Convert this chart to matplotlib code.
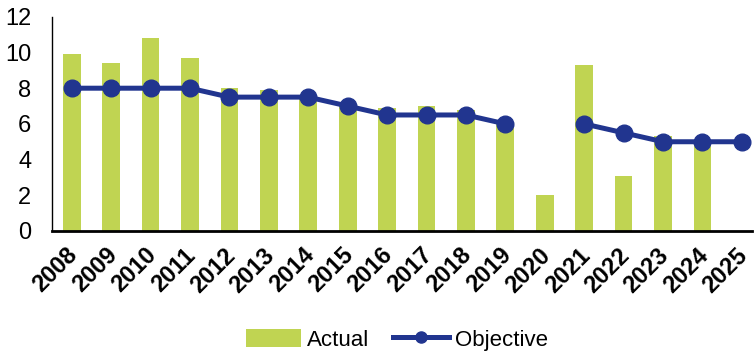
import matplotlib
matplotlib.use("Agg")
import matplotlib.pyplot as plt
import matplotlib.transforms as mtransforms
from matplotlib.lines import Line2D
from matplotlib.patches import Patch
import numpy as np

years = ["2008", "2009", "2010", "2011", "2012", "2013", "2014", "2015", "2016",
         "2017", "2018", "2019", "2020", "2021", "2022", "2023", "2024", "2025"]
actual = [9.9, 9.4, 10.8, 9.7, 8.0, 7.9, 7.6, 7.0, 6.9, 7.0, 6.8, 6.1, 2.0, 9.3, 3.1, 5.3, 5.1, np.nan]
objective = [8.0, 8.0, 8.0, 8.0, 7.5, 7.5, 7.5, 7.0, 6.5, 6.5, 6.5, 6.0, np.nan, 6.0, 5.5, 5.0, 5.0, 5.0]
yticks = [0, 2, 4, 6, 8, 10, 12]

plt.rcParams['font.family'] = ['Liberation Sans', 'DejaVu Sans']

fig = plt.figure(figsize=(7.54, 3.54), dpi=100)
ax = fig.add_axes([0.069, 0.3475, 0.928, 0.605])

x = np.arange(len(years))
green = "#C0D452"
navy = "#21358F"
ax.bar(x, actual, width=0.45, color=green, zorder=2)
ax.plot(x, objective, color=navy, lw=3.6, marker="o", markersize=12, zorder=3)

ax.set_ylim(0, 12)
ax.set_xlim(-0.5, 17.25)
ax.set_yticks(yticks)
ax.set_yticklabels([str(t) for t in yticks], fontsize=17)
ax.set_xticks(x)
ax.set_xticklabels(years, rotation=45, ha="right", va="top", rotation_mode="anchor",
                   fontsize=17, fontweight="bold")
ax.tick_params(axis="both", length=0)
ax.tick_params(axis="y", pad=15)
ax.tick_params(axis="x", pad=9)
offset = mtransforms.ScaledTranslation(-6 / 100, 0, fig.dpi_scale_trans)
for lbl in ax.get_xticklabels():
    lbl.set_transform(lbl.get_transform() + offset)
for s in ["top", "right"]:
    ax.spines[s].set_visible(False)
ax.spines["left"].set_linewidth(1.0)
ax.spines["bottom"].set_linewidth(2.0)
ax.spines["bottom"].set_zorder(4)

handles = [Patch(facecolor=green, label="Actual"),
           Line2D([0], [0], color=navy, lw=3.6, marker="o", markersize=8, label="Objective")]
fig.legend(handles=handles, loc="center", bbox_to_anchor=(0.526, 0.04), ncol=2, frameon=False,
           fontsize=16, handlelength=2.5, handleheight=0.9, columnspacing=1.1,
           handletextpad=0.25, borderpad=0)

fig.savefig("out.png", dpi=100)
